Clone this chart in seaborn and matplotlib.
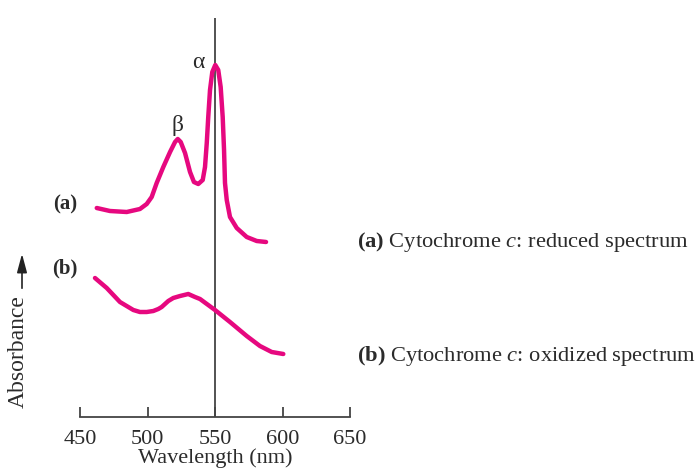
"""
Absorption spectra of cytochrome c, reduced vs oxidized.
"""
import numpy as np
import pandas as pd
import matplotlib
matplotlib.use('Agg')
import matplotlib.pyplot as plt
import seaborn as sns

# (a) reduced spectrum (arbitrary absorbance units)
reduced_nm = [462.4, 472.2, 484.6, 494.4, 499.4, 503.1, 506.8, 511.7, 516.7,
              520.4, 522.4, 524.6, 527.8, 531.5, 534.4, 537.6, 540.9, 542.6,
              543.9, 545.0, 546.3, 548.0, 550.2, 552.4, 554.2, 555.7, 556.7,
              557.4, 558.7, 561.1, 566.1, 573.5, 580.9, 587.8]
reduced_abs = [2.09, 2.06, 2.05, 2.08, 2.13, 2.20, 2.34, 2.50, 2.65,
               2.75, 2.78, 2.75, 2.64, 2.45, 2.35, 2.33, 2.37, 2.50,
               2.74, 3.00, 3.27, 3.45, 3.52, 3.47, 3.30, 3.00, 2.67,
               2.34, 2.17, 2.00, 1.89, 1.80, 1.76, 1.75]

# (b) oxidized spectrum
oxidized_nm = [461.1, 469.8, 479.6, 489.5, 494.4, 499.4, 504.3, 508.0, 510.5,
               515.4, 519.1, 524.1, 530.2, 535.2, 538.9, 550.0, 561.1, 573.5,
               583.3, 592.0, 600.6]
oxidized_abs = [1.39, 1.29, 1.15, 1.07, 1.05, 1.05, 1.06, 1.08, 1.10,
                1.16, 1.19, 1.21, 1.23, 1.20, 1.18, 1.07, 0.95, 0.81,
                0.71, 0.65, 0.63]

xticks = [450, 500, 550, 600, 650]

PINK = '#e6087f'
GREY = '#444444'
TEXT = '#2b2b2b'

sns.set_theme(style='white')
plt.rcParams['font.family'] = ['Liberation Serif', 'DejaVu Serif']
plt.rcParams['mathtext.fontset'] = 'custom'
plt.rcParams['mathtext.rm'] = 'Liberation Serif'
plt.rcParams['mathtext.it'] = 'Liberation Serif:italic'
plt.rcParams['mathtext.bf'] = 'Liberation Serif:bold'

fig = plt.figure(figsize=(6.99, 4.69), dpi=100)
ax = fig.add_axes([80 / 699, 52 / 469, 270 / 699, 399 / 469])

reduced = pd.DataFrame({'nm': reduced_nm, 'A': reduced_abs})
oxidized = pd.DataFrame({'nm': oxidized_nm, 'A': oxidized_abs})

for df in [reduced, oxidized]:
    sns.lineplot(data=df, x='nm', y='A', ax=ax, color=PINK, linewidth=3.2,
                 solid_joinstyle='round', solid_capstyle='round')

ax.axvline(550, color=GREY, linewidth=1.3, zorder=0)

ax.set_xlim(450, 650)
ax.set_ylim(0, 3.99)
ax.set_xticks(xticks)
ax.set_xticklabels([str(t) for t in xticks], fontsize=16, color=TEXT)
ax.set_yticks([])
ax.set_xlabel('Wavelength (nm)', fontsize=16, color=TEXT, labelpad=0)
ax.set_ylabel('')
ax.tick_params(axis='x', direction='in', length=7, width=1.3, color=GREY,
               pad=9, bottom=True)
for side in ['top', 'right', 'left']:
    ax.spines[side].set_visible(False)
ax.spines['bottom'].set_color(GREY)
ax.spines['bottom'].set_linewidth(1.3)

# peak labels
ax.text(538, 3.55, 'α', fontsize=17, color=TEXT, ha='center', va='center')
ax.text(521.9, 2.91, 'β', fontsize=17, color=TEXT, ha='center', va='center')

# curve tags left of the axes
ax.text(439, 2.13, '(a)', fontsize=15, fontweight='bold', color=TEXT,
        ha='center', va='center', clip_on=False)
ax.text(439, 1.49, '(b)', fontsize=15, fontweight='bold', color=TEXT,
        ha='center', va='center', clip_on=False)

# legend text on the right
fig.text(357 / 699, 1 - 242 / 469, r'$\bf{(a)}$ Cytochrome $\it{c}$: reduced spectrum',
         fontsize=16.2, color=TEXT, ha='left', va='center')
fig.text(357 / 699, 1 - 356 / 469, r'$\bf{(b)}$ Cytochrome $\it{c}$: oxidized spectrum',
         fontsize=16.2, color=TEXT, ha='left', va='center')

# absorbance label with arrow
fig.text(18.5 / 699, 1 - 352 / 469, 'Absorbance', fontsize=17, color=TEXT,
         rotation=90, ha='center', va='center')
fig.patches.append(matplotlib.patches.FancyArrowPatch(
    (22 / 699, 1 - 291 / 469), (22 / 699, 1 - 251 / 469),
    transform=fig.transFigure, arrowstyle='-|>,head_length=0.75,head_width=0.2',
    color='#222222', linewidth=1.2, mutation_scale=15))

fig.savefig('out.png', dpi=100)
